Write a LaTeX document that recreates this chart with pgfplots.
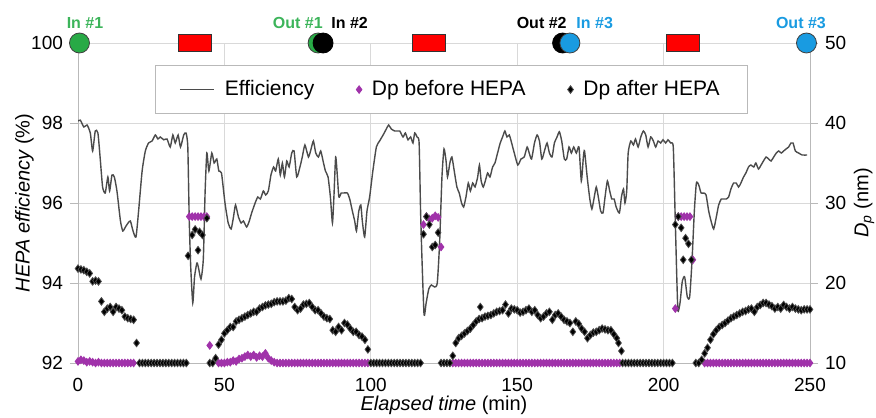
\documentclass[border=0pt]{standalone}
\usepackage{fontspec}
\setmainfont{Liberation Sans}
\setsansfont{Liberation Sans}
\usepackage{pgfplots}
\pgfplotsset{compat=1.18}

\definecolor{effline}{RGB}{75,75,75}
\definecolor{dpbefore}{RGB}{160,50,170}
\definecolor{ingreen}{RGB}{40,170,70}
\definecolor{txtgreen}{RGB}{60,180,90}
\definecolor{inblue}{RGB}{25,155,225}
\definecolor{gridgray}{RGB}{217,217,217}
\definecolor{axgray}{RGB}{185,185,185}

\pgfplotsset{
  base/.style={
    width=366pt, height=160pt, scale only axis,
    xmin=0, xmax=250,
    /pgf/number format/assume math mode=true,
    tick label style={font=\fontsize{9.5}{11}\selectfont},
    label style={font=\fontsize{10}{12}\selectfont},
    tick align=outside, major tick length=4pt,
    tick style={axgray},
    axis line style={axgray},
  },
}
\tikzset{toplabel/.style={font=\bfseries\fontsize{8}{10}\selectfont, inner sep=0pt}}

\begin{document}
\begin{tikzpicture}
% left axis: HEPA efficiency
\begin{axis}[base,
  ymin=92, ymax=100, ytick={92,94,...,100},
  xtick={0,50,...,250},
  axis x line*=bottom, axis y line*=left,
  grid=major, grid style={gridgray},
  x tick style={draw=none},
  xlabel={{\itshape Elapsed time} (min)},
  ylabel={{\itshape HEPA efficiency} (\%)},
  every axis y label/.style={at={(axis description cs:-0.073,0.5)},rotate=90,anchor=center},
  every axis x label/.style={at={(axis description cs:0.5,-0.131)},anchor=center},
]
\addplot[effline, line width=0.7pt, smooth, tension=0.35] coordinates {
(0,98.05)(0.8,98.07)(2,97.9)(3.1,97.95)(4.2,97.75)(5,97.3)(5.9,97.8)(6.8,97.75)(7.6,97.1)(8.4,96.4)
(9.3,96.25)(10.2,96.65)(10.8,96.3)(11.6,96.7)(12.4,96.65)(13.3,96.3)(14.5,95.55)(15.3,95.3)(16.2,95.4)(17.1,95.5)
(17.9,95.55)(18.8,95.3)(19.8,95.15)(20.7,95.8)(21.9,96.8)(23,97.3)(24.1,97.5)(25.3,97.55)(26.4,97.7)(27.3,97.6)
(28.1,97.65)(29.3,97.58)(30.4,97.6)(31.5,97.4)(32.4,97.7)(33.2,97.5)(34.2,97.7)(35,97.4)(36.1,97.7)(36.9,97.75)
(37.5,97.4)(38,95.55)(38.5,94.4)(39.2,93.5)(39.8,94.15)(40.6,94.5)(41.1,94.4)(42,94.1)(42.8,94.6)(43.4,96.25)
(44,97.25)(44.7,96.8)(45.7,97.25)(46.5,97)(47.4,97.1)(48.1,96.8)(49,96.75)(50.2,96)(51.3,95.5)(52.3,95.35)
(53.1,95.65)(53.8,95.95)(54.8,95.65)(55.7,95.5)(56.5,95.55)(57.6,95.4)(58.5,95.55)(59.3,95.75)(60.5,96)(61.4,96.15)
(62.3,96.1)(63.3,96.3)(64.1,96.2)(65,96.3)(65.9,96.7)(66.8,96.9)(67.5,96.8)(68.4,97.1)(69.1,96.7)(69.8,97)
(70.5,96.65)(71.3,97.05)(72.1,96.9)(73,97.25)(73.8,97.3)(74.7,96.65)(75.8,96.9)(76.6,97.15)(77.5,97.45)(78.7,97.15)
(79.6,97.35)(80.4,97.55)(81.2,97.25)(82.1,97.15)(82.9,97.3)(83.7,97.05)(84.5,96.8)(85.4,96.65)(86.2,96.15)(86.9,95.5)
(87.4,96.15)(88,97.15)(88.6,96.65)(89.1,96.15)(89.9,96.25)(90.8,96.25)(92,96.25)(92.8,96.1)(93.7,95.8)(94.5,95.55)
(95.1,95.3)(95.9,95.8)(96.6,95.95)(97.1,95.55)(97.9,95.15)(98.7,95.8)(99.6,96.15)(100.7,96.8)(101.9,97.4)(103,97.55)
(104.2,97.7)(105.3,97.85)(106.1,97.95)(107,97.85)(108.2,97.8)(109.1,97.8)(109.9,97.8)(111,97.65)(111.8,97.75)(112.7,97.58)
(113.6,97.65)(114.4,97.5)(115,97.75)(115.8,97.65)(116.5,97.5)(117,95.8)(117.5,94.55)(118.2,93.2)(118.9,93.5)(119.8,93.85)
(120.7,93.95)(121.8,93.9)(122.7,94)(123.5,95)(124.3,96.65)(125,97.35)(125.7,97.05)(126.2,96.65)(127,97)(127.7,97.15)
(128.5,96.8)(129.4,96.4)(130.2,96.25)(131,96)(131.7,95.9)(132.5,96.15)(133.3,96.5)(134,96.3)(134.8,96.5)(135.6,96.4)
(136.5,96.65)(137.1,96.95)(137.7,96.55)(138.4,96.4)(139.1,96.55)(139.9,96.75)(140.7,96.65)(141.6,96.9)(142.4,97)(143.3,97.25)
(144.2,97.5)(145,97.65)(145.8,97.8)(146.5,97.65)(147.3,97.7)(148.1,97.5)(149,97.25)(150.2,96.95)(151.3,97.1)(152.4,97.15)
(153.4,97.4)(154.1,97.25)(154.9,97.1)(155.9,97.5)(156.8,97.7)(157.6,97.55)(158.4,97.1)(159.3,97.3)(160.2,97.5)(161,97.25)
(161.9,97.15)(162.7,97.5)(163.6,97.65)(164.4,97.78)(165.2,97.55)(166.1,97.1)(166.9,97.1)(167.7,97.4)(168.5,97.25)(169.3,97.4)
(170.2,97.25)(171.1,97.4)(171.9,96.55)(172.6,97.15)(173,97.3)(173.9,96.65)(174.8,96.1)(175.5,95.85)(176.2,96.1)(177,96.4)
(177.7,96.15)(178.5,95.8)(179.3,95.75)(180,96.15)(180.8,96.55)(181.6,96.3)(182.3,96.1)(183.1,96.1)(183.8,95.9)(184.9,95.75)
(185.6,96.15)(186.3,96.35)(186.8,96)(187.4,96.3)(187.9,97.25)(188.8,97.55)(189.7,97.45)(190.4,97.6)(191.3,97.4)(192.2,97.65)
(193.1,97.8)(193.9,97.7)(194.7,97.4)(195.6,97.65)(196.5,97.55)(197.3,97.4)(198.1,97.55)(199,97.5)(199.8,97.58)(200.7,97.5)
(201.5,97.58)(202.4,97.5)(203.3,97.4)(203.9,95.8)(204.5,94.15)(204.9,93.3)(205.6,93.5)(206.4,94.05)(207.2,94.15)(208.1,93.65)
(208.9,93.65)(209.7,94.55)(210.5,95.8)(211.2,96.5)(212,96.45)(212.8,96.25)(213.7,96.25)(214.5,96.2)(215.4,95.8)(216.2,95.55)
(217.1,95.35)(218,95.65)(218.8,95.95)(219.7,96.1)(220.5,96.1)(221.4,96.1)(222.2,96.15)(223,96.35)(223.9,96.5)(224.8,96.5)
(225.6,96.4)(226.4,96.5)(227.3,96.65)(228.1,96.75)(229,96.9)(229.8,96.95)(230.8,96.9)(231.5,97)(232.4,96.85)(233.3,96.95)
(234.1,97.05)(235,97.15)(235.9,97.1)(236.7,97.05)(237.6,97.15)(238.5,97.25)(239.3,97.3)(240.2,97.25)(241,97.3)(241.8,97.35)
(242.7,97.4)(243.5,97.5)(244.2,97.5)(245,97.3)(246.1,97.25)(247.3,97.2)(249,97.2)
};
\end{axis}

% right axis: particle diameter
\begin{axis}[base,
  ymin=10, ymax=50, ytick={10,20,...,50},
  axis x line=none, axis y line*=right,
  ylabel={{\itshape D\textsubscript{p}} (nm)},
  every axis y label/.style={at={(axis description cs:1.074,0.5)},rotate=90,anchor=center},
  legend columns=3,
  legend style={at={(0.105,0.931)}, anchor=north west, draw=axgray, line width=0.4pt,
    font=\fontsize{10.5}{12}\selectfont, inner xsep=12pt, inner ysep=5.5pt,
    /tikz/every even column/.append style={column sep=19pt},
    /tikz/every odd column/.append style={column sep=3pt}},
  legend cell align=left,
]
\addlegendimage{effline, line width=0.7pt}
\addlegendentry{Efficiency}
\addplot[only marks, mark=diamond*, mark size=1.9pt, mark options={fill=dpbefore, draw=dpbefore}] coordinates {
(0,10.2)(1,10.4)(2,10.3)(3,10.1)(4,10.2)(5,10.1)(6,10)(7,10.1)(8,10)(9,10)(10,10)(11,10)(12,10)(13,10)(14,10)(15,10)(16,10)(17,10)(18,10)(19,10)
(38,28.3)(39,28.3)(40,28.3)(41,28.3)(42,28.3)(43,28.3)(44,28.3)(45,12.2)
(48,10)(49,10)(50,10)(51,10.1)(52,10.1)(53,10.3)(54,10.2)(55,10.5)(56,10.6)(57,10.8)(58,11)(59,10.8)(60,11)(61,10.7)(62,10.9)(63,10.8)(64,11.2)(65,10.6)(66,10.3)(67,10.1)
(68,10)(69,10)(70,10)(71,10)(72,10)(73,10)(74,10)(75,10)(76,10)(77,10)(78,10)(79,10)(80,10)(81,10)(82,10)(83,10)
(84,10)(85,10)(86,10)(87,10)(88,10)(89,10)(90,10)(91,10)(92,10)(93,10)(94,10)(95,10)(96,10)(97,10)(98,10)(99,10)
(118,27.3)(119,28.3)(120,28)(121,28.1)(122,28.4)(123,28.2)(124,24.5)
(128,10)(129,10)(130,10)(131,10)(132,10)(133,10)(134,10)(135,10)(136,10)(137,10)(138,10)(139,10)(140,10)(141,10)(142,10)
(143,10)(144,10)(145,10)(146,10)(147,10)(148,10)(149,10)(150,10)(151,10)(152,10)(153,10)(154,10)(155,10)(156,10)(157,10)
(158,10)(159,10)(160,10)(161,10)(162,10)(163,10)(164,10)(165,10)(166,10)(167,10)(168,10)(169,10)(170,10)(171,10)(172,10)
(173,10)(174,10)(175,10)(176,10)(177,10)(178,10)(179,10)(180,10)(181,10)(182,10)(183,10)(184,10)(185,10)
(204,16.8)(205,28.3)(206,28.3)(207,28.3)(208,28.3)(209,28.3)(210,22.9)
(214,10)(215,10)(216,10)(217,10)(218,10)(219,10)(220,10)(221,10)(222,10)(223,10)(224,10)(225,10)(226,10)
(227,10)(228,10)(229,10)(230,10)(231,10)(232,10)(233,10)(234,10)(235,10)(236,10)(237,10)(238,10)(239,10)
(240,10)(241,10)(242,10)(243,10)(244,10)(245,10)(246,10)(247,10)(248,10)(249,10)(250,10)
};
\addlegendentry{Dp before HEPA}
\addplot[only marks, mark=diamond*, mark size=1.9pt, mark options={fill=black, draw=black!70}] coordinates {
(0,21.8)(1,21.7)(2,21.6)(3,21.4)(4,21.2)(5,20.2)(6,20.3)(7,20.2)(8,17.7)(9,16.4)(10,16.8)(11,17)(12,16.4)(13,17)(14,16.8)
(15,16.6)(16,15.8)(17,15.6)(18,15.5)(19,15.4)(20,12.5)
(21,10)(22,10)(23,10)(24,10)(25,10)(26,10)(27,10)(28,10)(29,10)(30,10)(31,10)(32,10)(33,10)(34,10)(35,10)(36,10)(37,10)
(37.6,23.4)(39,26)(40,26.7)(41,24.1)(41.5,26.4)(42.5,26)(44,28.1)
(45,10)(46,10)(47,10.6)(48,12.3)(49,12.9)(50,13.7)(51,14.1)(52,14.5)(53,14.5)(54,15.2)(55,15.4)(56,15.6)(57,15.8)(58,16)
(59,16.2)(60,16.4)(61,16.4)(62,16.8)(63,17)(64,17.2)(65,17.3)(66,17.4)(67,17.6)(68,17.7)(69,17.7)(70,17.7)(71,17.8)(72,18.1)
(73,18)(74,17)(75,16.6)(76,16.8)(77,17.3)(78,17.4)(79,17.5)(80,17)(81,16.6)(82,16.6)(83,16.2)(84,15.8)(85,15.6)(86,15.5)
(87,14.1)(88,13.9)(89,14.5)(90,14.1)(91,15)(92,14.8)(93,14.3)(94,13.9)(95,13.9)(96,13.5)(97,13.3)(98,12.9)(99,11.7)
(100,10)(101,10)(102,10)(103,10)(104,10)(105,10)(106,10)(107,10)(108,10)(109,10)(110,10)(111,10)(112,10)(113,10)(114,10)
(115,10)(116,10)(117,10)
(118,26.1)(119,28.3)(120,27.3)(121,24.5)(122,24.75)(123,26.3)
(124,10)(125,10)(126,10)(127,10)
(128,10.9)(129,12.5)(130,13.1)(131,13.4)(132,13.7)(133,14)(134,14.3)(135,14.75)(136,15.2)(137,15.5)(137.4,17)(138,15.6)
(139,15.8)(140,15.9)(141,16)(142,16.2)(143,16.4)(144,16.5)(145,16.6)(146,17.3)(147,16.2)(148,16.8)(149,16.7)(150,16.6)
(151,16.3)(152,16.4)(153,16.6)(154,16.8)(155,16.4)(156,16.6)(157,16)(158,15.6)(159,15.8)(160,16.2)(161,16.4)(162,15.4)
(163,16)(164,16.2)(165,15.8)(166,15.4)(167,15.2)(168,15)(169,13.9)(170,15.2)(171,14.9)(172,14.3)(173,13.9)(174,13.1)
(175,13.5)(176,13.8)(177,13.9)(178,14.1)(179,14.3)(180,14.2)(181,14.1)(182,14.1)(183,13.6)(184,13.1)(184.6,12.5)(185.6,11.5)
(186,10)(187,10)(188,10)(189,10)(190,10)(191,10)(192,10)(193,10)(194,10)(195,10)(196,10)(197,10)(198,10)(199,10)(200,10)
(201,10)(202,10)(203,10)
(204,27.3)(205,28.3)(206,26.9)(206.7,22.9)(207.5,25.6)(208.5,24.9)(209.5,22.9)
(211,10)(212,10)(213,10.4)(214,11.2)(215,11.9)(216,12.9)(217,13.6)(218,14.1)(219,14.5)(220,14.75)(221,15)(222,15.3)
(223,15.6)(224,15.8)(225,16)(226,16.2)(227,16.4)(228,16.5)(229,16.7)(230,16.8)(231,16.4)(232,17)(233,17.25)(234,17.5)
(235,17.5)(236,17.3)(237,17.1)(238,16.8)(239,17)(240,16.8)(241,17.25)(242,17)(243,16.8)(244,17)(245,16.8)(246,16.7)
(247,16.6)(248,16.7)(249,16.7)(250,16.7)
};
\addlegendentry{Dp after HEPA}
\end{axis}

% filter change markers along the top, drawn last so they sit above the axis lines
\begin{axis}[base, hide axis, ymin=92, ymax=100, clip=false]
\addplot[only marks, mark=*, mark size=5pt, mark options={fill=ingreen, draw=black!75}] coordinates {(0.5,100)(82,100)};
\addplot[only marks, mark=*, mark size=5pt, mark options={fill=black, draw=black}] coordinates {(83.7,100)(165.5,100)};
\addplot[only marks, mark=*, mark size=5pt, mark options={fill=inblue, draw=black!75}] coordinates {(168,100)(248.8,100)};
\addplot[only marks, mark=square*, mark size=4.25pt, mark options={xscale=1.95, fill=red, draw=black!80}] coordinates {(40,100)(119.8,100)(206.5,100)};
\node[toplabel, text=txtgreen, anchor=base] at ([yshift=7pt]axis cs:2.4,100) {In \#1};
\node[toplabel, text=txtgreen, anchor=base east] at ([yshift=7pt]axis cs:83.7,100) {Out \#1};
\node[toplabel, text=black, anchor=base west] at ([yshift=7pt]axis cs:86.4,100) {In \#2};
\node[toplabel, text=black, anchor=base east] at ([yshift=7pt]axis cs:167,100) {Out \#2};
\node[toplabel, text=inblue, anchor=base west] at ([yshift=7pt]axis cs:170.1,100) {In \#3};
\node[toplabel, text=inblue, anchor=base] at ([yshift=7pt]axis cs:246.9,100) {Out \#3};
\end{axis}
\pgfresetboundingbox
\path[use as bounding box] (-39pt,-27pt) rectangle (399pt,181.5pt);
\end{tikzpicture}
\end{document}
